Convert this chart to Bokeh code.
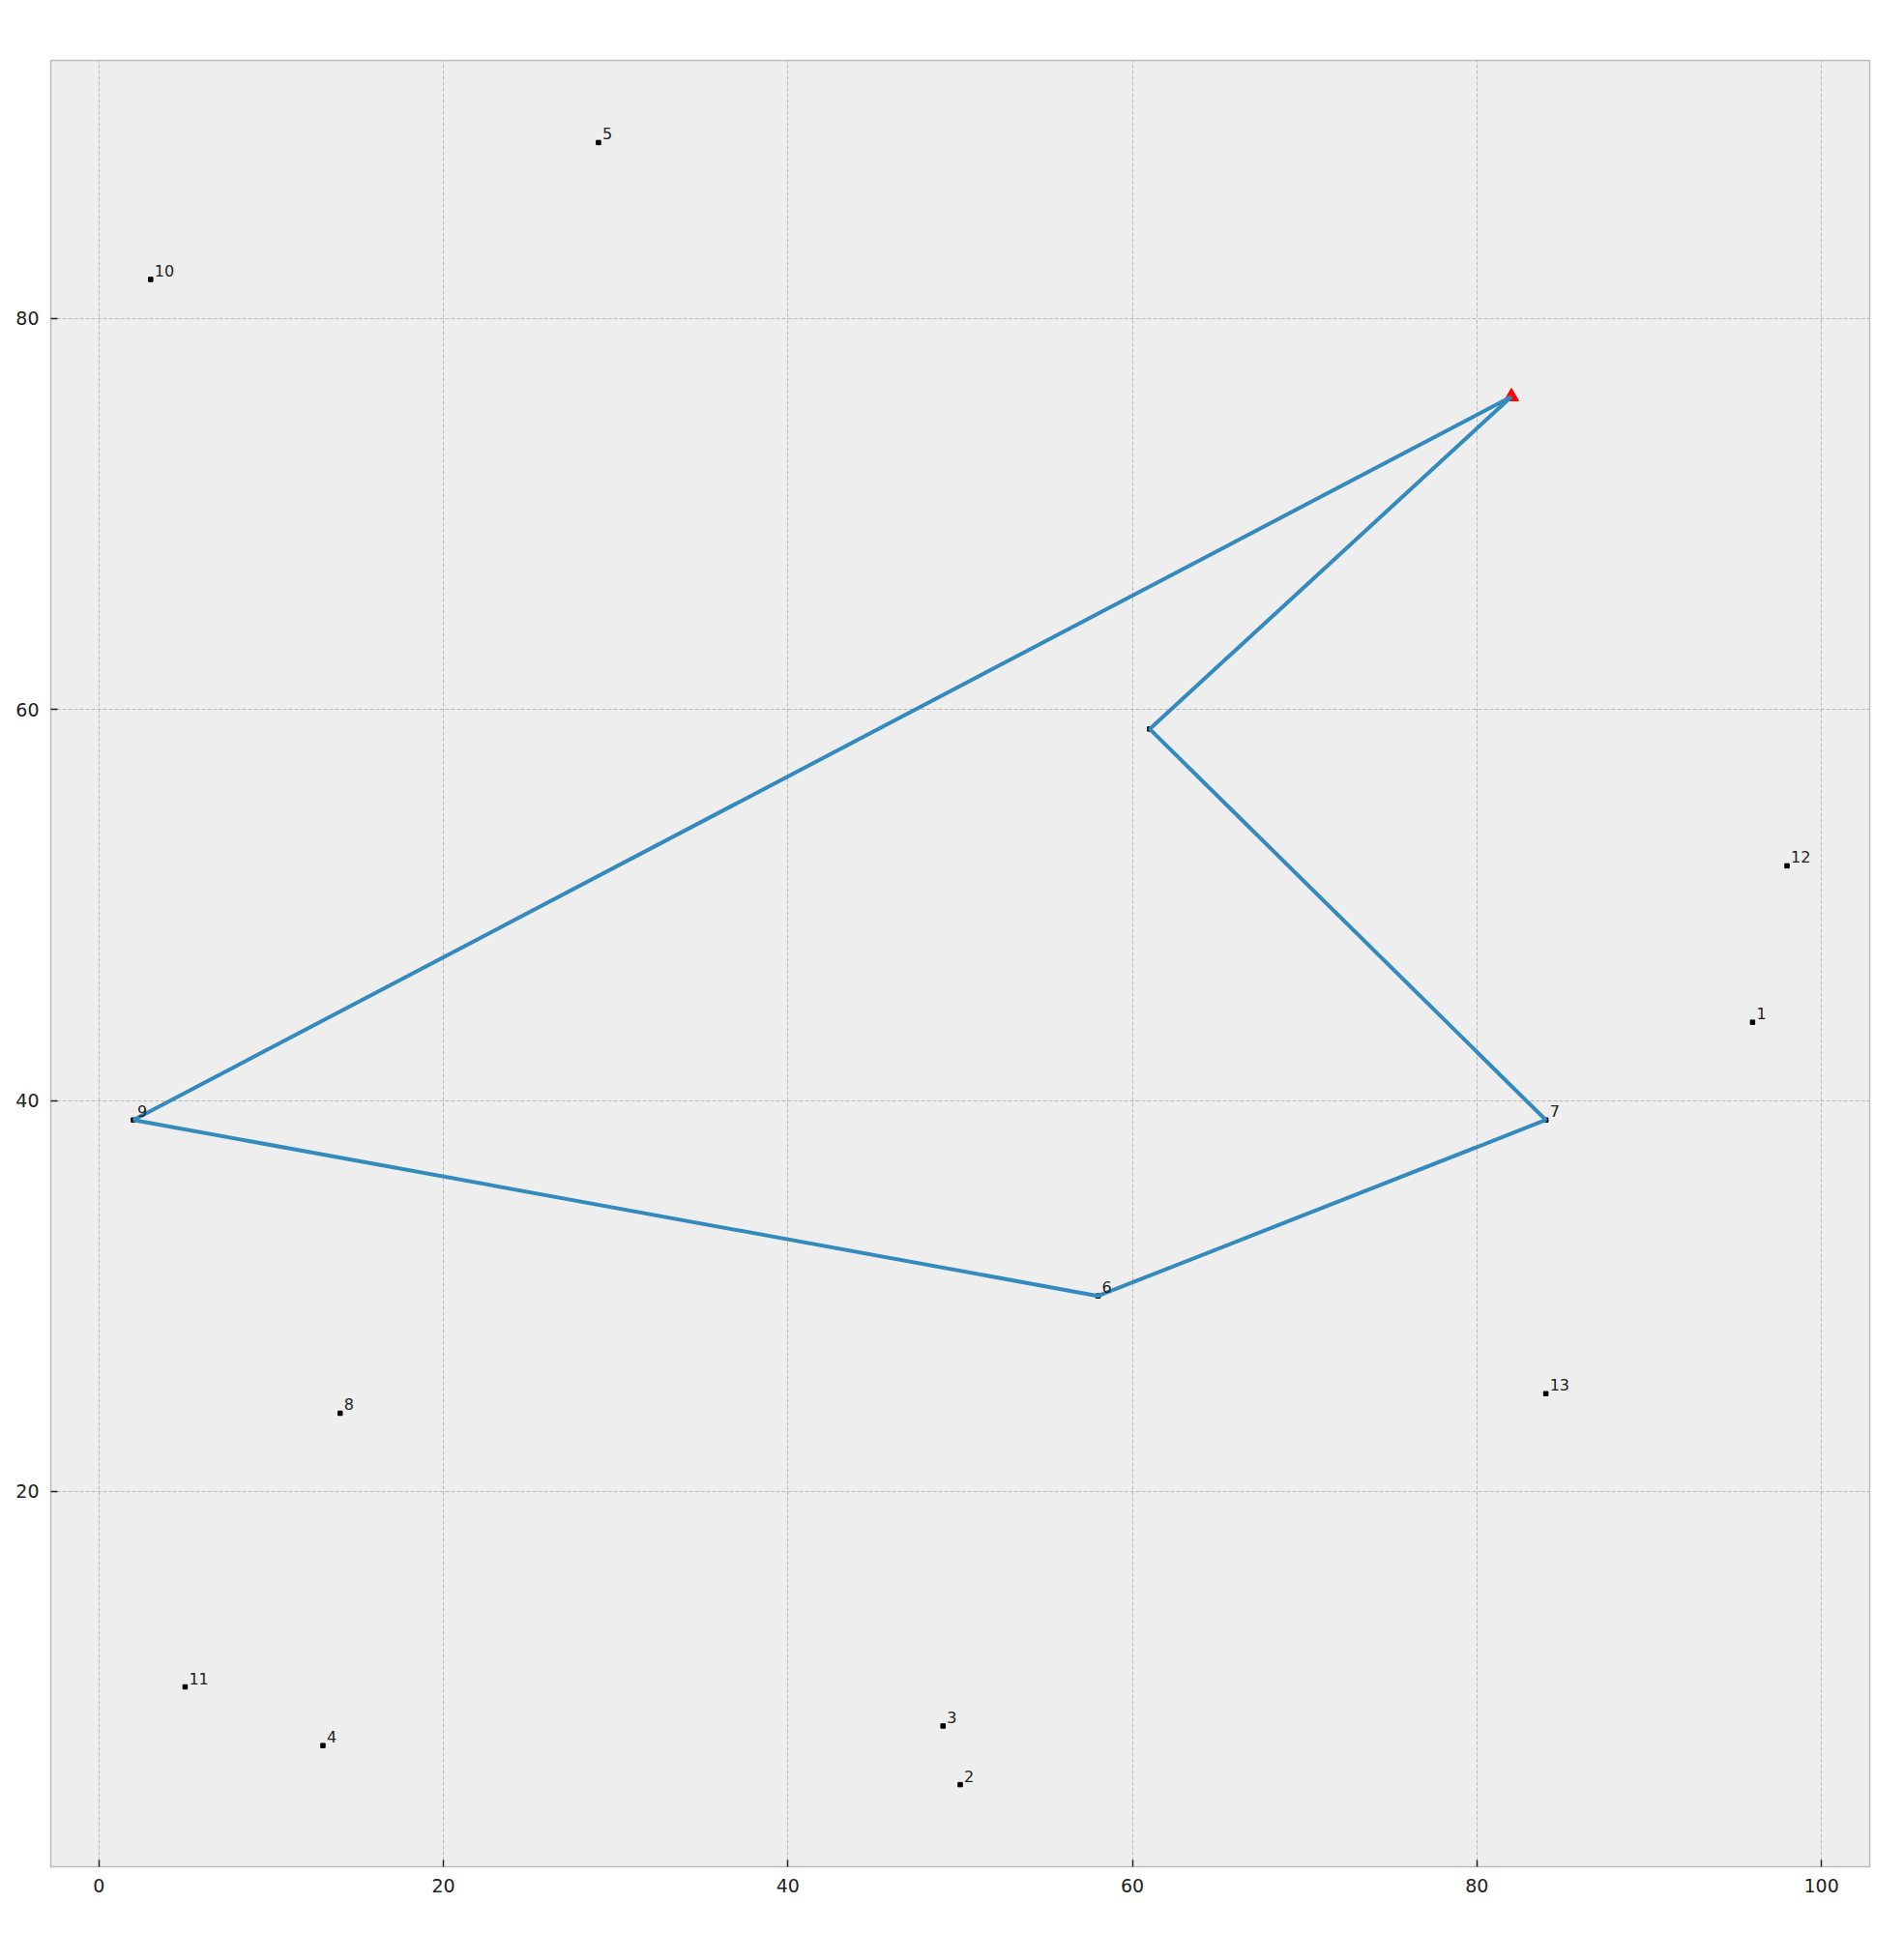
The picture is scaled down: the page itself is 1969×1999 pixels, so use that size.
from bokeh.plotting import figure
from bokeh.models import ColumnDataSource, SingleIntervalTicker, Range1d
from bokeh.embed import file_html
from bokeh.resources import INLINE
from bokeh.core.properties import value

# customer points and their labels
cust_x = [96, 50, 49, 13, 29, 58, 84, 14, 2, 3, 5, 98, 84]
cust_y = [44, 5, 8, 7, 89, 30, 39, 24, 39, 82, 10, 52, 25]
cust_labels = ["1", "2", "3", "4", "5", "6", "7", "8", "9", "10", "11", "12", "13"]

# unlabelled stop on the route
extra_x = [61]
extra_y = [59]

# depot
depot_x = [82]
depot_y = [76]

# route (depot -> 9 -> 6 -> 7 -> stop -> depot)
route_x = [82, 2, 58, 84, 61, 82]
route_y = [76, 39, 30, 39, 59, 76]

p = figure(
    frame_width=1881, frame_height=1868,
    min_border_left=52, min_border_top=62, min_border_right=24, min_border_bottom=56,
    x_range=Range1d(-2.8, 102.8), y_range=Range1d(0.8, 93.2),
    output_backend="svg", toolbar_location=None,
    background_fill_color="#eeeeee", border_fill_color="white",
    outline_line_color="#bcbcbc", outline_line_width=1.5,
)

src = ColumnDataSource(dict(x=cust_x, y=cust_y, t=cust_labels))
p.scatter("x", "y", source=src, marker="square", size=4.5, color="black")
p.scatter(extra_x, extra_y, marker="square", size=4.5, color="black")
p.scatter(depot_x, depot_y, marker="triangle", size=15, color="red", line_color="red")

p.line(route_x, route_y, line_color="#348ABD", line_width=4)

p.text("x", "y", text="t", source=src, x_offset=4, y_offset=-3,
       text_font=value("DejaVu Sans"), text_font_size="16px",
       text_color="#222222", text_baseline="bottom", text_align="left")

for ax in (p.xaxis[0], p.yaxis[0]):
    ax.ticker = SingleIntervalTicker(interval=20)
    ax.axis_line_color = None
    ax.major_tick_in = 7
    ax.major_tick_out = 0
    ax.minor_tick_line_color = None
    ax.major_tick_line_color = "#222222"
    ax.major_tick_line_width = 1.5
    ax.major_label_text_font = "DejaVu Sans"
    ax.major_label_text_font_size = "19px"
    ax.major_label_text_color = "#222222"
    ax.major_label_standoff = 8

p.xgrid.grid_line_color = "#b8b8b8"
p.ygrid.grid_line_color = "#b8b8b8"
p.xgrid.grid_line_dash = "4 2"
p.ygrid.grid_line_dash = "4 2"
p.xgrid.grid_line_width = 1
p.ygrid.grid_line_width = 1

open("out.html", "w").write(file_html(p, INLINE))
